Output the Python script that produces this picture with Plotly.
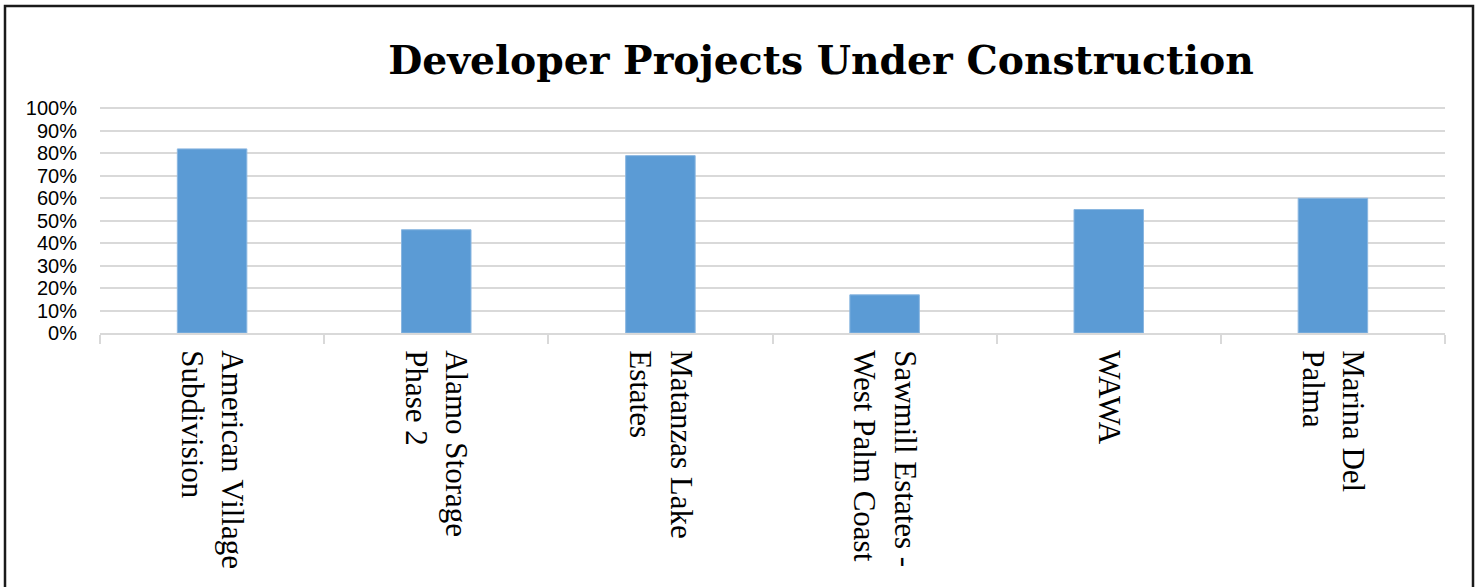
import plotly.graph_objects as go

categories = [
    "American Village<br>Subdivision",
    "Alamo Storage<br>Phase 2",
    "Matanzas Lake<br>Estates",
    "Sawmill Estates -<br>West Palm Coast",
    "WAWA",
    "Marina Del<br>Palma",
]
values = [0.82, 0.46, 0.79, 0.17, 0.55, 0.60]
y_ticks = [0, 0.1, 0.2, 0.3, 0.4, 0.5, 0.6, 0.7, 0.8, 0.9, 1.0]
y_tick_labels = ["0%", "10%", "20%", "30%", "40%", "50%", "60%", "70%", "80%", "90%", "100%"]
title_text = "Developer Projects Under Construction"

PLOT_H = 229

fig = go.Figure(
    go.Bar(
        x=categories,
        y=values,
        marker=dict(color="#5b9bd5", line=dict(color="#8ab6e0", width=1)),
        width=0.31,
    )
)

fig.update_layout(
    width=1480,
    height=587,
    margin=dict(l=100, r=35, t=104, b=254),
    paper_bgcolor="white",
    plot_bgcolor="white",
    showlegend=False,
    title=dict(
        text="<b>" + title_text + "</b>",
        font=dict(family="DejaVu Serif", size=39.3, color="black"),
        x=821 / 1480,
        xanchor="center",
        xref="container",
        y=1 - 60 / 587,
        yanchor="middle",
        yref="container",
    ),
    xaxis=dict(
        tickangle=90,
        tickfont=dict(family="Liberation Serif", size=31, color="black"),
        showgrid=False,
        showline=True,
        linecolor="#d9d9d9",
        linewidth=2,
        ticks="outside",
        tickson="boundaries",
        ticklen=9,
        tickwidth=2,
        tickcolor="#d9d9d9",
        ticklabelstandoff=9,
    ),
    yaxis=dict(
        range=[0, 1.02],
        tickvals=y_ticks,
        ticktext=y_tick_labels,
        tickfont=dict(family="Liberation Sans", size=20, color="black"),
        showgrid=True,
        gridcolor="#d9d9d9",
        gridwidth=1.5,
        zeroline=False,
        showline=False,
        ticklabelstandoff=22,
    ),
    shapes=[
        dict(
            type="rect",
            xref="paper",
            yref="paper",
            x0=(5 - 100) / 1345,
            x1=(1473 - 100) / 1345,
            y0=(333 - 620) / PLOT_H,
            y1=(333 - 6) / PLOT_H,
            line=dict(color="#1a1a1a", width=2.5),
            fillcolor="rgba(0,0,0,0)",
            layer="above",
        )
    ],
)

fig.write_html(
    "out.html",
    config={"displayModeBar": False},
    post_script="document.body.style.margin='0';",
)
